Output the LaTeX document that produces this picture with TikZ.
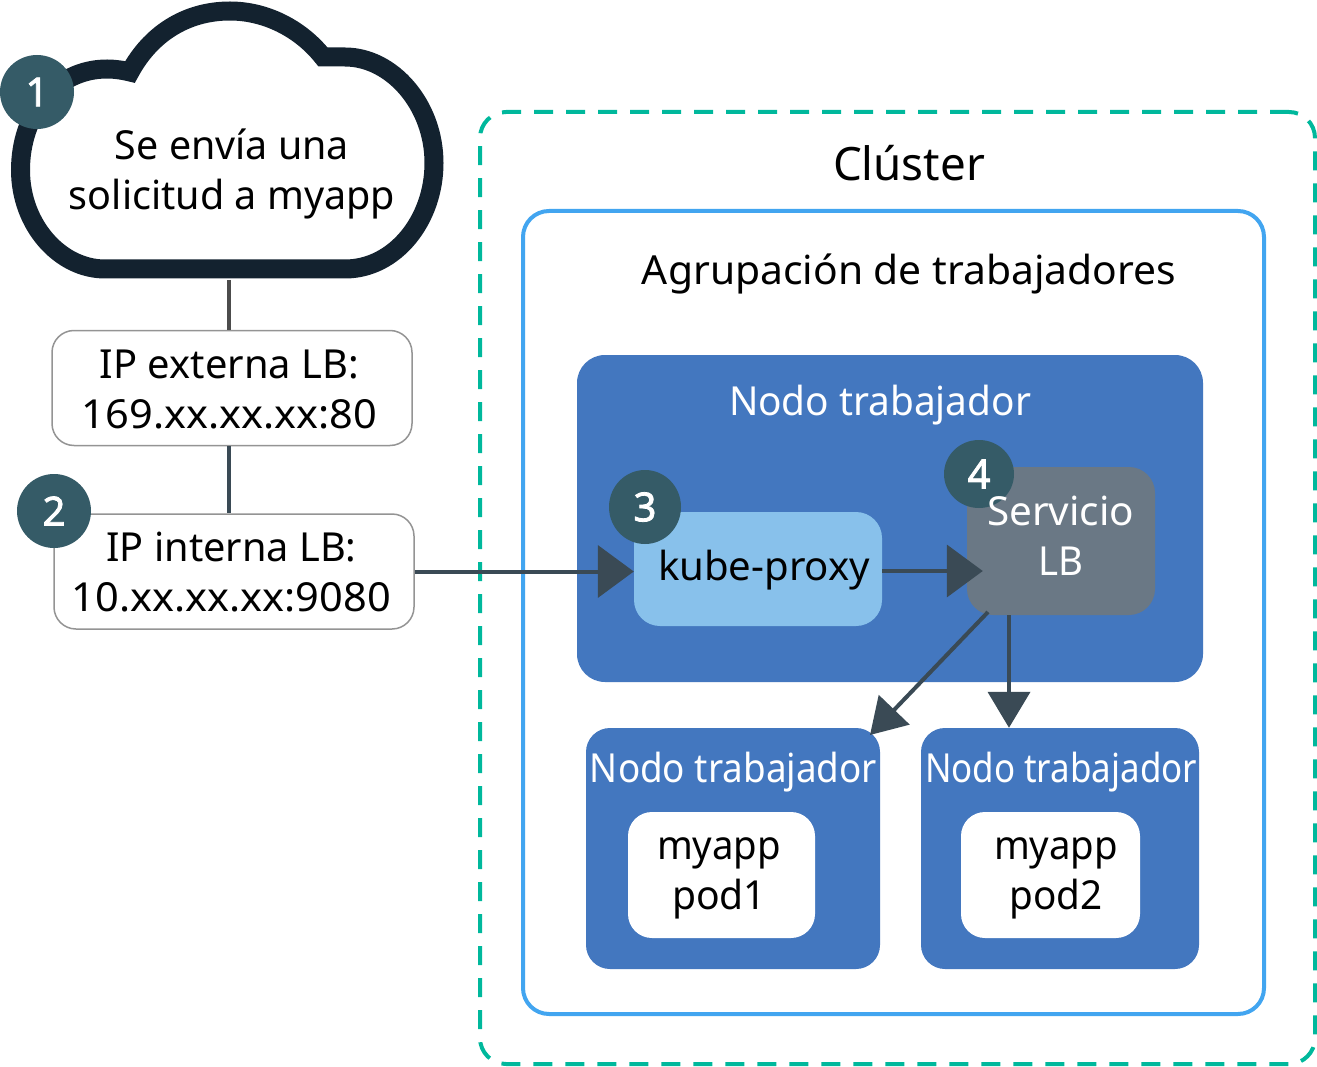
\documentclass[tikz,border=0pt]{standalone}
\usepackage{fontspec}
\usepackage{graphicx}
\setmainfont{Noto Sans}
\newfontfamily\badgefont[FakeBold=2]{Noto Sans}
\usetikzlibrary{arrows.meta,shapes.geometric}
\definecolor{ink}{HTML}{13222F}
\definecolor{badgec}{HTML}{355B67}
\definecolor{conn}{HTML}{3A4A55}
\definecolor{teal}{HTML}{00B89C}
\definecolor{poolc}{HTML}{42A5F0}
\definecolor{workc}{HTML}{4377BF}
\definecolor{kubec}{HTML}{88C1EB}
\definecolor{lbc}{HTML}{6A7885}
\newcommand{\fit}[2]{\resizebox{#1pt}{\height}{#2}}
\tikzset{
  tx/.style={inner sep=0pt,align=center,font=\fontsize{40}{50}\selectfont},
  ip/.style={tx,draw=black!42,line width=1.5pt,fill=white,rounded corners=22pt,minimum width=360pt,minimum height=115pt},
  worker/.style={tx,fill=workc,rounded corners=24pt},
  podbox/.style={tx,fill=white,rounded corners=24pt},
  badge/.style={fill=badgec,text=white,inner sep=0pt,font=\fontsize{40}{40}\badgefont},
  link/.style={draw=conn,line width=4pt},
  head/.style={-{Triangle[length=36pt,width=52pt]}},
}
\begin{document}
\begin{tikzpicture}[x=1pt,y=-1pt]
\useasboundingbox (0,0) rectangle (1317,1067);
% cluster and pool
\node[draw=teal,line width=4pt,dash pattern=on 19pt off 13pt,rounded corners=26pt,minimum width=835pt,minimum height=952pt,inner sep=0pt] (cluster) at (897.5,588) {};
\node[draw=poolc,line width=4pt,fill=white,rounded corners=26pt,minimum width=741pt,minimum height=803pt,inner sep=0pt] (pool) at (893.5,612.5) {};
\node[tx,font=\fontsize{46}{50}\selectfont,anchor=base] (clt) at (909,181) {\fit{152}{Clúster}};
\node[tx,anchor=base] (poolt) at (909,285) {\fit{534}{Agrupación de trabajadores}};
% workers
\node[worker,minimum width=626pt,minimum height=327pt,rounded corners=28pt] (w1) at (890,518.5) {};
\node[tx,text=white,anchor=base] (w1t) at (880,415) {\fit{302}{Nodo trabajador}};
\node[worker,minimum width=294pt,minimum height=241pt] (w2) at (733,848.5) {};
\node[worker,minimum width=278pt,minimum height=241pt] (w3) at (1060,848.5) {};
\node[tx,text=white,anchor=base] (w2t) at (733.5,782) {\fit{287}{Nodo trabajador}};
\node[tx,text=white,anchor=base] (w3t) at (1061,782) {\fit{272}{Nodo trabajador}};
\node[podbox,minimum width=187pt,minimum height=126pt] (pod1) at (721.5,875) {};
\node[podbox,minimum width=179pt,minimum height=126pt] (pod2) at (1050.5,875) {};
\node[tx] (pod1t) at (719,878) {\fit{124}{myapp}\\\fit{94}{pod1}};
\node[tx] (pod2t) at (1056,878) {\fit{124}{myapp}\\\fit{93}{pod2}};
% kube-proxy and LB service
\node[tx,fill=kubec,rounded corners=26pt,minimum width=248pt,minimum height=114pt] (kube) at (758,569) {};
\node[tx,anchor=base] (kubet) at (764,580) {\fit{212}{kube-proxy}};
\node[tx,fill=lbc,rounded corners=26pt,minimum width=188pt,minimum height=148pt] (lbs) at (1061,541) {};
% left column
\node[tx] (cloudt) at (232,173.5) {\fit{234}{Se envía una}\\\fit{326}{solicitud a myapp}};
\draw[ink,line width=19pt,miter limit=10,line join=miter]
  (105,269) -- (345,269)
  .. controls (395,269) and (434,220) .. (434,163)
  .. controls (434,105) and (392,57) .. (345,57)
  .. controls (338,57) and (330,57) .. (323,57)
  .. controls (300,28) and (265,11) .. (230,11)
  .. controls (185,11) and (150,35) .. (130,72)
  .. controls (122,70) and (114,69) .. (107,69)
  .. controls (55,69) and (20.5,115) .. (20.5,170)
  .. controls (20.5,225) and (60,269) .. (105,269) -- cycle;
\coordinate (cloudb) at (229,280);
\node[ip] (lb1) at (232,388) {};
\node[ip] (lb2) at (234,571.5) {};
\node[tx] (lb1t) at (229.5,389) {\fit{259}{IP externa LB:}\\\fit{295}{169.xx.xx.xx:80}};
\node[tx] (lb2t) at (231.5,572.5) {\fit{250}{IP interna LB:}\\\fit{319}{10.xx.xx.xx:9080}};
% connectors
\draw[draw=black!70,line width=4pt] (cloudb) -- (cloudb |- lb1.north);
\draw[link] (lb1.south -| cloudb) -- (lb2.north -| cloudb);
\draw[link,head] (lb2.east) -- (lb2.east -| kube.west);
\draw[link,head] ([yshift=-2pt]kube.east) -- ([shift={(16pt,-30pt)}]lbs.west);
\coordinate (diagS) at (988,612);
\coordinate (diagE) at (870,735);
\draw[link,-{Triangle[length=35pt,width=42pt]}] (diagS) -- (diagE);
\coordinate (vertS) at (1009,615);
\draw[link,-{Triangle[length=36pt,width=42pt]}] (vertS) -- (vertS |- w3.north);
% badges
\node[badge,circle,minimum size=74pt] (b1) at (37,92) {1};
\node[badge,circle,minimum size=74pt] (b2) at (54,511) {2};
\node[badge,ellipse,minimum width=72pt,minimum height=74pt] (b3) at (645,507) {3};
\node[badge,ellipse,minimum width=70pt,minimum height=68pt] (b4) at (979,474) {4};
\node[tx,text=white] (lbst) at (1060.5,536) {\fit{147}{Servicio}\\\fit{45}{LB}};
\end{tikzpicture}
\end{document}
